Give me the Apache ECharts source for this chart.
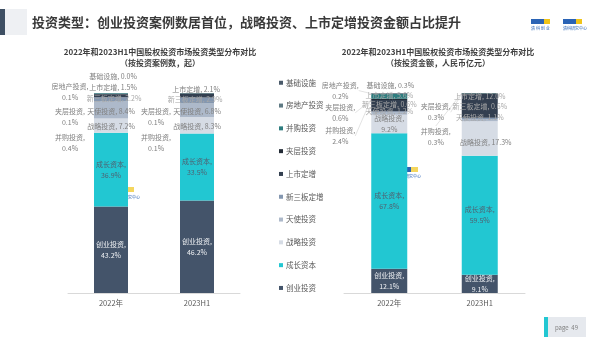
<!DOCTYPE html>
<html><head><meta charset="utf-8">
<script src="https://cdn.jsdelivr.net/npm/echarts@6/dist/echarts.min.js"></script>
<style>html,body{margin:0;padding:0;background:#fff}#c{width:600px;height:337px}</style>
</head><body><div id="c"></div>
<script>
// ---------- data ----------
const types = ['创业投资','成长资本','战略投资','天使投资','新三板定增','上市定增','夹层投资','并购投资','房地产投资','基础设施'];
const periods = ['2022年','2023H1'];
// share by number of cases (%)
const caseShare2022 = [43.2, 36.9, 7.2, 8.4, 2.2, 1.5, 0.1, 0.4, 0.1, 0.0];
const caseShare2023 = [46.2, 33.5, 8.3, 6.8, 2.9, 2.1, 0.1, 0.1, 0.0, 0.0];
// share by investment amount (%)
const amountShare2022 = [12.1, 67.8, 9.2, 1.2, 0.6, 5.6, 0.6, 2.4, 0.2, 0.3];
const amountShare2023 = [9.1, 59.5, 17.3, 1.1, 0.6, 12.0, 0.3, 0.3, 0.0, 0.0];
const slideTitle = '投资类型：创业投资案例数居首位，战略投资、上市定增投资金额占比提升';
const chartTitles = ['2022年和2023H1中国股权投资市场投资类型分布对比','2022年和2023H1中国股权投资市场投资类型分布对比'];
const chartSubtitles = ['（按投资案例数，起）','（按投资金额，人民币亿元）'];
const pageLabel = 'page  49';

// ---------- styles ----------
const typeColors = ['#44546a','#22c7d2','#d6dce5','#adb9ca','#8497b0','#333f50','#222a35','#2e7d7f','#5f7a84','#4a5a6a'];
const textColors = {light:'#eef0f3', mid:'#4f6272', gray:'#808080', soft:'#a8a8a8'};
// label placement per chart: [type][period] -> [mode, lines, dx, dy, colour, guide]
const labelSpec = [
  [
    [['in',2,0,0,'light'],['in',2,0,0,'light']],
    [['in',2,0,0,'mid'],['in',2,0,0,'mid']],
    [['in',1,0,1,'gray'],['in',1,0,1,'gray']],
    [['in',1,0,1,'gray'],['in',1,0,1,'gray']],
    [['in',1,3,-1,'soft'],['in',1,-2,-1,'soft']],
    [['top',1,2,-7,'gray'],['top',1,-1,-4,'gray']],
    [['top',2,-41,23,'gray'],['top',2,-41,24,'gray']],
    [['top',2,-41,50,'gray'],['top',2,-41,50,'gray']],
    [['top',2,-41,-1,'gray'],null],
    [['top',1,2,-17,'gray'],null]
  ],
  [
    [['in',2,0,0,'light'],['in',2,0,0,'light']],
    [['in',2,0,0,'mid'],['in',2,0,0,'mid']],
    [['in',2,0,0,'gray'],['in',1,6,4,'gray']],
    [['top',1,0,-1,'soft'],['top',1,0,-2,'soft']],
    [['top',1,0,-7,'soft'],['top',1,0,-11,'soft']],
    [['top',1,0,-5,'soft'],['top',1,0,3,'soft']],
    [['top',2,-49,14,'gray',1],['top',2,-44,19,'gray',1]],
    [['top',2,-49,42,'gray',1],['top',2,-44,44,'gray',1]],
    [['top',2,-49,-3,'gray',1],null],
    [['top',1,1,-8,'gray'],null]
  ]
];
const chartData = [[caseShare2022, caseShare2023],[amountShare2022, amountShare2023]];
const FONT = '"Noto Sans CJK SC","Noto Sans",sans-serif';

const series = [];
const seriesMeta = [];
for (let c = 0; c < 2; c++) {
  types.forEach((name, t) => {
    const data = periods.map((p, k) => {
      const spec = labelSpec[c][t][k];
      const item = {value: chartData[c][k][t]};
      if (!spec) item.label = {show:false};
      else {
        item.label = {show:true, color:textColors[spec[4]]};
        item.labelLine = {show: !!spec[5]};
      }
      return item;
    });
    seriesMeta.push({c, t});
    series.push({
      name, type:'bar', stack:'s'+c, xAxisIndex:c, yAxisIndex:c,
      barWidth: c === 0 ? 34 : 36,
      itemStyle:{color:typeColors[t]},
      data,
      label:{show:true, fontSize:7, fontFamily:FONT, lineHeight:11, align:'center',
        formatter: p => {
          const spec = labelSpec[c][t][p.dataIndex];
          const v = Number(p.value).toFixed(1) + '%';
          return spec && spec[1] === 2 ? name + ',\n' + v : name + ', ' + v;
        }},
      labelLine:{show:false, lineStyle:{color:'#d0d0d0', width:0.6}},
      emphasis:{disabled:true}
    });
  });
}

const chart = echarts.init(document.getElementById('c'), null, {renderer:'canvas'});
chart.setOption({
  backgroundColor:'#ffffff',
  animation:false,
  textStyle:{fontFamily:FONT},
  title:[
    {text:chartTitles[0], subtext:chartSubtitles[0], left:155, top:43, textAlign:'center', itemGap:3,
     textStyle:{fontSize:8, fontWeight:'bold', color:'#404040', fontFamily:FONT},
     subtextStyle:{fontSize:8, fontWeight:'bold', color:'#404040', fontFamily:FONT}},
    {text:chartTitles[1], subtext:chartSubtitles[1], left:433, top:43, textAlign:'center', itemGap:3,
     textStyle:{fontSize:8, fontWeight:'bold', color:'#404040', fontFamily:FONT},
     subtextStyle:{fontSize:8, fontWeight:'bold', color:'#404040', fontFamily:FONT}}
  ],
  legend:{orient:'vertical', left:274, top:74, itemWidth:4, itemHeight:4, itemGap:15.3, icon:'rect',
    data: types.slice().reverse(), selectedMode:false,
    textStyle:{fontSize:7.5, color:'#595959', fontFamily:FONT, padding:[0,0,0,-2]}},
  grid:[
    {left:68, top:93, width:172, height:200},
    {left:344, top:93, width:181, height:200}
  ],
  xAxis:[0,1].map(i => ({type:'category', gridIndex:i, data:periods,
    axisLine:{lineStyle:{color:'#d9d9d9'}}, axisTick:{show:false},
    axisLabel:{fontSize:7.5, color:'#595959', margin:6, fontFamily:FONT}})),
  yAxis:[0,1].map(i => ({type:'value', gridIndex:i, min:0, max:100, show:false, splitLine:{show:false}})),
  labelLayout: p => {
    const m = seriesMeta[p.seriesIndex];
    const spec = labelSpec[m.c][m.t][p.dataIndex];
    if (!spec) return {};
    const r = p.rect;
    const cx = r.x + r.width/2 + spec[2];
    const cy = spec[0] === 'in' ? r.y + r.height/2 + spec[3] : r.y + spec[3];
    return {x:cx, y:cy, align:'center', verticalAlign:'middle'};
  },
  series,
  graphic:[
    {type:'rect', shape:{x:0,y:9,width:5,height:26}, style:{fill:'#3e4f63'}},
    {type:'rect', shape:{x:5,y:9,width:22,height:26}, style:{fill:'#eef0f3'}},
    {type:'text', x:32, y:22, style:{text:slideTitle, font:'bold 13px '+FONT, fill:'#3a3a3a', verticalAlign:'middle'}},
    // top-right logos
    {type:'rect', shape:{x:531,y:19,width:13,height:5}, style:{fill:'#2a63b5'}},
    {type:'rect', shape:{x:544,y:19,width:6,height:5}, style:{fill:'#f0c419'}},
    {type:'text', x:531, y:28, style:{text:'清 科 创 业', font:'4px '+FONT, fill:'#2a63b5', verticalAlign:'middle'}},
    {type:'rect', shape:{x:563,y:19,width:13,height:5}, style:{fill:'#2a63b5'}},
    {type:'rect', shape:{x:576,y:19,width:6,height:5}, style:{fill:'#f0c419'}},
    {type:'text', x:563, y:28, style:{text:'清科研究中心', font:'4px '+FONT, fill:'#2a63b5', verticalAlign:'middle'}},
    // watermarks
    {type:'rect', shape:{x:116,y:187,width:12,height:5}, style:{fill:'#2a63b5'}},
    {type:'rect', shape:{x:128,y:187,width:6,height:5}, style:{fill:'#f0c419', opacity:0.7}},
    {type:'text', x:116, y:197, style:{text:'清科研究中心', font:'4px '+FONT, fill:'#2a63b5', verticalAlign:'middle'}},
    {type:'rect', shape:{x:397,y:167,width:14,height:5}, style:{fill:'#2a63b5'}},
    {type:'rect', shape:{x:411,y:167,width:7,height:5}, style:{fill:'#f0c419', opacity:0.7}},
    {type:'text', x:397, y:176, style:{text:'清科研究中心', font:'4px '+FONT, fill:'#2a63b5', verticalAlign:'middle'}},
    // footer
    {type:'rect', shape:{x:544,y:317,width:4,height:20}, style:{fill:'#22c7d2'}},
    {type:'rect', shape:{x:548,y:317,width:38,height:20}, style:{fill:'#e6e9ee'}},
    {type:'text', x:555, y:328, style:{text:pageLabel, font:'6px '+FONT, fill:'#7f7f7f', verticalAlign:'middle'}}
  ]
});
</script></body></html>
